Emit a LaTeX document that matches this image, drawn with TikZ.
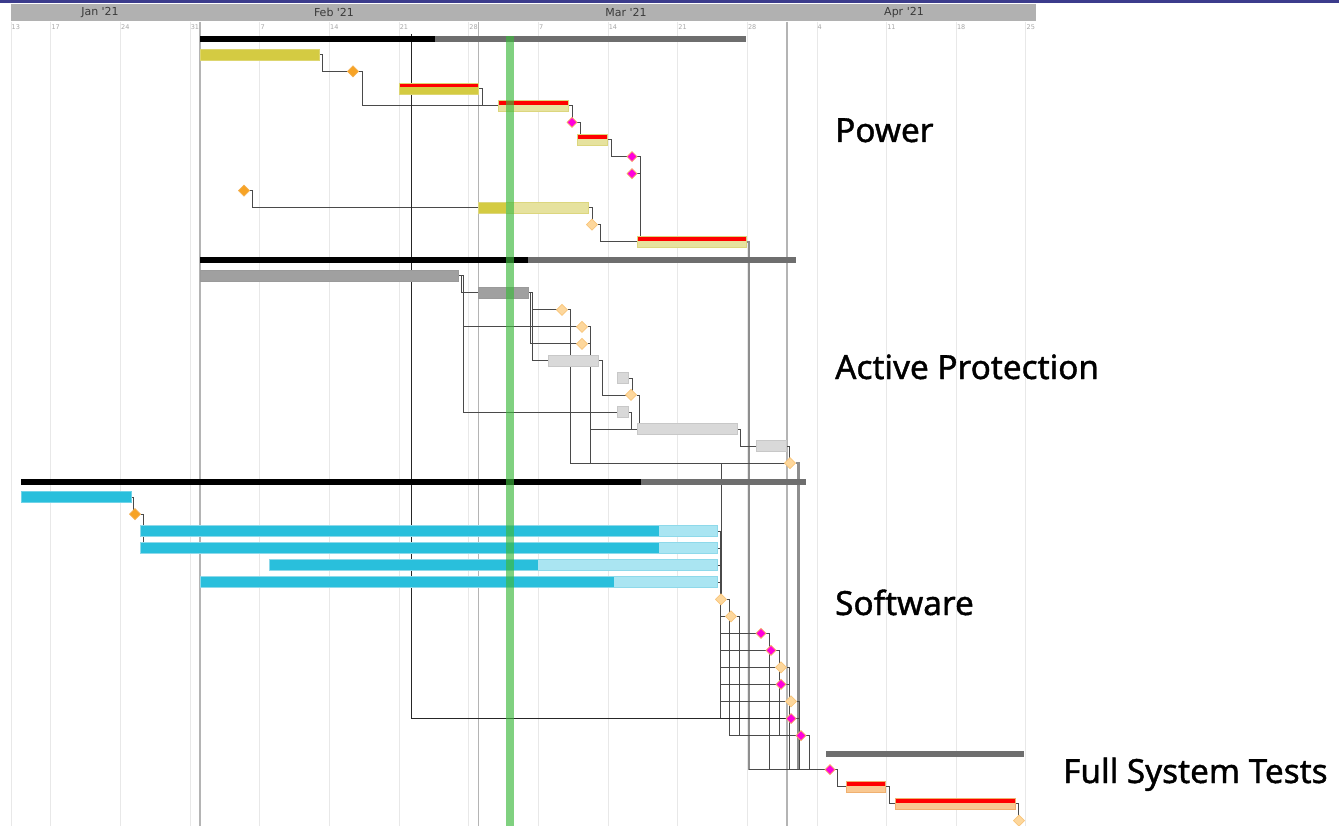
\documentclass[tikz,border=0pt]{standalone}
\usepackage{fontspec}
\newfontfamily\labelfont[FakeBold=1.2]{Noto Sans}
\newfontfamily\axisfont{DejaVu Sans}
\usetikzlibrary{shapes.geometric}
\pgfdeclarelayer{grid}
\pgfdeclarelayer{links}
\pgfdeclarelayer{front}
\pgfsetlayers{grid,links,main,front}

\definecolor{topblue}{HTML}{3C3C8C}
\definecolor{headgray}{HTML}{B1B1B1}
\definecolor{monthtext}{HTML}{3A3A3A}
\definecolor{daygray}{HTML}{A8A8A8}
\definecolor{weekgray}{HTML}{E8E8E8}
\definecolor{monthgray}{HTML}{B4B4B4}
\definecolor{olive}{HTML}{D4CB42}
\definecolor{oliveedge}{HTML}{DDD670}
\definecolor{paleolive}{HTML}{E6E29E}
\definecolor{paleoliveedge}{HTML}{DCD67E}
\definecolor{lateRed}{HTML}{FF0000}
\definecolor{donegray}{HTML}{A0A0A0}
\definecolor{donegrayedge}{HTML}{9A9A9A}
\definecolor{opengray}{HTML}{D9D9D9}
\definecolor{opengrayedge}{HTML}{C8C8C8}
\definecolor{swcyan}{HTML}{29BFDC}
\definecolor{swcyanedge}{HTML}{6FD3E8}
\definecolor{swpale}{HTML}{AAE5F2}
\definecolor{swpaleedge}{HTML}{8ED9EA}
\definecolor{peach}{HTML}{F9C891}
\definecolor{peachedge}{HTML}{F0B070}
\definecolor{sumgray}{HTML}{6E6E6E}
\definecolor{msorange}{HTML}{F7A325}
\definecolor{msorangeedge}{HTML}{F5B050}
\definecolor{mspale}{HTML}{FDD79C}
\definecolor{mspaleedge}{HTML}{F9C57A}
\definecolor{mspink}{HTML}{FF00DC}
\definecolor{mspinkedge}{HTML}{F8B060}
\definecolor{linkgray}{HTML}{4A4A4A}
\definecolor{heavygray}{HTML}{8E8E8E}
\definecolor{todaygreen}{RGB}{60,185,60}

% row centre, counted from the first row of the chart
\newcommand\RY[1]{37.3+17.03*#1}
% bar: style, name, start x, end x, row
\newcommand\taskbar[5]{\node[#1,minimum width={#4-#3},anchor=west] (#2) at (#3,\RY{#5}) {};}
% milestone: style, name, x, row
\newcommand\milestone[4]{\node[#1] (#2) at (#3,\RY{#4}) {};}
% summary: name, start x, end x, row, extra style
\newcommand\summary[5]{\node[sumbar,minimum width={#3-#2},anchor=west,#5] (#1) at (#2,\RY{#4}+1.8) {};}

\tikzset{
  bar/.style={rectangle,inner sep=0pt,outer sep=0pt,minimum height=11pt,line width=0.6pt},
  olivebar/.style={bar,fill=olive,draw=oliveedge},
  palebar/.style={bar,fill=paleolive,draw=paleoliveedge},
  late/.style={path picture={\fill[lateRed] (path picture bounding box.north west) rectangle ([yshift=-4.6pt]path picture bounding box.north east);}},
  donebar/.style={bar,fill=donegray,draw=donegrayedge},
  openbar/.style={bar,fill=opengray,draw=opengrayedge},
  swbar/.style={bar,fill=swcyan,draw=swcyanedge},
  swopen/.style={bar,fill=swpale,draw=swpaleedge},
  peachbar/.style={bar,fill=peach,draw=peachedge},
  progress/.style 2 args={path picture={\fill[#1] (path picture bounding box.south west) rectangle ([xshift=#2]path picture bounding box.north west);}},
  sumbar/.style={rectangle,inner sep=0pt,outer sep=0pt,minimum height=6pt,fill=sumgray},
  mile/.style={diamond,inner sep=0pt,outer sep=0pt,minimum width=11pt,minimum height=11pt,line width=0.7pt},
  msdone/.style={mile,fill=msorange,draw=msorangeedge},
  msopen/.style={mile,fill=mspale,draw=mspaleedge},
  mslate/.style={mile,minimum width=10pt,minimum height=10pt,fill=mspink,draw=mspinkedge},
  link/.style={draw=linkgray,line width=0.75pt},
  heavylink/.style={draw=heavygray,line width=2.2pt},
  weekline/.style={draw=weekgray,line width=0.8pt},
  monthline/.style={draw=monthgray,line width=1.6pt},
  daylabel/.style={font=\axisfont\fontsize{6.5}{7}\selectfont,text=daygray,inner sep=0pt,anchor=west},
  monthlabel/.style={font=\axisfont\fontsize{11}{13}\selectfont,text=monthtext,inner sep=0pt},
  grouplabel/.style={font=\labelfont\fontsize{33.3}{40}\selectfont,inner sep=0pt,anchor=base west},
}

\begin{document}
\begin{tikzpicture}[x=1pt,y=-1pt]
\useasboundingbox (0,0) rectangle (1339,826);

% ---------- time axis ----------
\begin{pgfonlayer}{grid}
\fill[white] (0,0) rectangle (1339,826);
\fill[topblue] (0,0) rectangle (1339,2.6);
\fill[headgray] (11,4) rectangle (1036,21.5);
\foreach \x/\d [count=\k] in {10.95/13,50.75/17,120.4/24,190.05/31,259.7/7,329.35/14,399/21,468.65/28,538.3/7,607.95/14,677.6/21,747.25/28,816.9/4,886.55/11,956.2/18,1025.85/25}{
  \draw[weekline] (\x,22) -- (\x,826);
  \node[daylabel] (day\k) at (\x+0.6,27.5) {\d};
}
\foreach \x in {200,478.6,787.1}
  \draw[monthline] (\x,22) -- (\x,826);
\node[monthlabel] (mJan) at (100,12.8) {Jan '21};
\node[monthlabel] (mFeb) at (334,12.8) {Feb '21};
\node[monthlabel] (mMar) at (626,12.8) {Mar '21};
\node[monthlabel] (mApr) at (904,12.8) {Apr '21};
\end{pgfonlayer}

% ---------- Power ----------
\summary{p0}{200}{746}{0}{progress={black}{235pt}}
\taskbar{olivebar}{p1}{200}{319}{1}
\milestone{msdone}{p2}{353}{2}
\taskbar{olivebar,late}{p3}{399}{478}{3}
\taskbar{palebar,late}{p4}{498}{568}{4}
\milestone{mslate}{p5}{572}{5}
\taskbar{palebar,late}{p6}{577}{607}{6}
\milestone{mslate}{p7}{632}{7}
\milestone{mslate}{p8}{632}{8}
\milestone{msdone}{p9}{244}{9}
\taskbar{palebar,progress={olive}{28pt}}{p10}{478}{588}{10}
\milestone{msopen}{p11}{592}{11}
\taskbar{palebar,late}{p12}{637}{746}{12}

% ---------- Active Protection ----------
\summary{a13}{200}{796}{13}{progress={black}{328pt}}
\taskbar{donebar}{a14}{200}{458}{14}
\taskbar{donebar}{a15}{478}{528}{15}
\milestone{msopen}{a16}{562}{16}
\milestone{msopen}{a17}{582}{17}
\milestone{msopen}{a18}{582}{18}
\taskbar{openbar}{a19}{548}{598}{19}
\taskbar{openbar}{a20}{617}{628}{20}
\milestone{msopen}{a21}{631}{21}
\taskbar{openbar}{a22}{617}{628}{22}
\taskbar{openbar}{a23}{637}{737}{23}
\taskbar{openbar}{a24}{756}{786}{24}
\milestone{msopen}{a25}{790}{25}

% ---------- Software ----------
\summary{s26}{21}{806}{26}{progress={black}{620pt}}
\taskbar{swbar}{s27}{21}{131}{27}
\milestone{msdone}{s28}{135}{28}
\taskbar{swopen,progress={swcyan}{519pt}}{s29}{140}{717}{29}
\taskbar{swopen,progress={swcyan}{519pt}}{s30}{140}{717}{30}
\taskbar{swopen,progress={swcyan}{269pt}}{s31}{269}{717}{31}
\taskbar{swopen,progress={swcyan}{414pt}}{s32}{200}{717}{32}
\milestone{msopen}{s33}{721}{33}
\milestone{msopen}{s34}{731}{34}
\milestone{mslate}{s35}{761}{35}
\milestone{mslate}{s36}{771}{36}
\milestone{msopen}{s37}{781}{37}
\milestone{mslate}{s38}{781}{38}
\milestone{msopen}{s39}{791}{39}
\milestone{mslate}{s40}{791}{40}
\milestone{mslate}{s41}{801}{41}

% ---------- Full System Tests ----------
\summary{f42}{826}{1024}{42}{}
\milestone{mslate}{f43}{830}{43}
\taskbar{peachbar,late}{f44}{846}{885}{44}
\taskbar{peachbar,late}{f45}{895}{1015}{45}
\milestone{msopen}{f46}{1019}{46}

% ---------- dependencies ----------
\begin{pgfonlayer}{links}
\draw[link] (p1.east) -- ++(3.5,0) |- (p2.west);
\draw[link] (p2.east) -- ++(4,0) |- (p4.west);
\draw[link] (p3.east) -- ++(4,0) |- (p4.west);
\draw[link] (p4.east) -- ++(4,0) |- (p5.west);
\draw[link] (p5.east) -- ++(3,0) |- (p6.west);
\draw[link] (p6.east) -- ++(4,0) |- (p7.west);
\draw[link] (p7.east) -- ++(3,0) |- (p12.west);
\draw[link] (p8.east) -- ++(3,0) |- (p12.west);
\draw[link] (p9.east) -- ++(3,0) |- (p10.west);
\draw[link] (p10.east) -- ++(4,0) |- (p11.west);
\draw[link] (p11.east) -- ++(3,0) |- (p12.west);
\draw[heavylink] (p12.east) -- ++(3,0) coordinate (h1) -- (h1 |- f43);
\draw[link] (h1 |- f43) -- (f43.west);

\draw[link] (a14.east) -- ++(3,0) |- (a15.west);
\draw[link] (a14.east) -- ++(5,0) |- (a17.west);
\draw[link] (a14.east) -- ++(5,0) |- (a22.west);
\draw[link] (a15.east) -- ++(4,0) |- (a16.west);
\draw[link] (a15.east) -- ++(2,0) |- (a18.west);
\draw[link] (a15.east) -- ++(4,0) |- (a19.west);
\draw[link] (a16.east) -- ++(3,0) |- (a25.west);
\draw[link] (a16.east) -- ++(3,0) |- (s33 |- a25) -- (s33);
\draw[link] (a17.east) -- ++(3,0) |- (a23.west);
\draw[link] (a17.east) -- ++(3,0) |- (a25.west);
\draw[link] (a18.east) -- ++(3,0) |- (a23.west);
\draw[link] (a19.east) -- ++(4,0) |- (a21.west);
\draw[link] (a20.east) -- ++(4,0) |- (a21.west);
\draw[link] (a21.east) -- ++(3,0) |- (a23.west);
\draw[link] (a22.east) -- ++(3,0) |- (a23.west);
\draw[link] (a23.east) -- ++(3,0) |- (a24.west);
\draw[link] (a24.east) -- ++(3,0) |- (a25.west);
\draw[heavylink] (a25.east) -- ++(3,0) coordinate (h2) -- (h2 |- f43);

\draw[link] (s27.east) -- ++(2.5,0) |- (s28.west);
\draw[link] (s28.east) -- ++(3,0) |- (s29.west);
\draw[link] (s28.east) -- ++(3,0) |- (s30.west);
\foreach \t in {29,30,31} \draw[link] (s\t.east) -- ++(3,0) |- (s33.west);
\foreach \t in {33,...,40} \draw[link] (s32.east) -- ++(3,0) |- (s\t.west);
\foreach \t in {35,...,41}{
  \draw[link] (s33.east) -- ++(3,0) |- (s\t.west);
  \draw[link] (s34.east) -- ++(3,0) |- (s\t.west);
}
\draw[link] (s36.east) -- ++(3,0) |- (s41.west);
\foreach \t in {35,37,38,39,40,41} \draw[link] (s\t.east) -- ++(3,0) |- (f43.west);

\coordinate (pw) at (411,34);
\draw[link,draw=black!85] (pw) |- (s40.west);

\draw[link] (f43.east) -- ++(2,0) |- (f44.west);
\draw[link] (f44.east) -- ++(4,0) |- (f45.west);
\draw[link] (f45.east) -- ++(3.5,0) |- (f46.west);
\end{pgfonlayer}

% ---------- today marker ----------
\begin{pgfonlayer}{front}
\fill[todaygreen,opacity=0.65] (506,36) rectangle (514,826);
\end{pgfonlayer}

% ---------- group captions ----------
\node[grouplabel] (gPower) at (835,142) {Power};
\node[grouplabel] (gActive) at (835,379) {Active Protection};
\node[grouplabel] (gSoftware) at (835,615) {Software};
\node[grouplabel] (gFull) at (1063,783) {Full System Tests};
\end{tikzpicture}
\end{document}
